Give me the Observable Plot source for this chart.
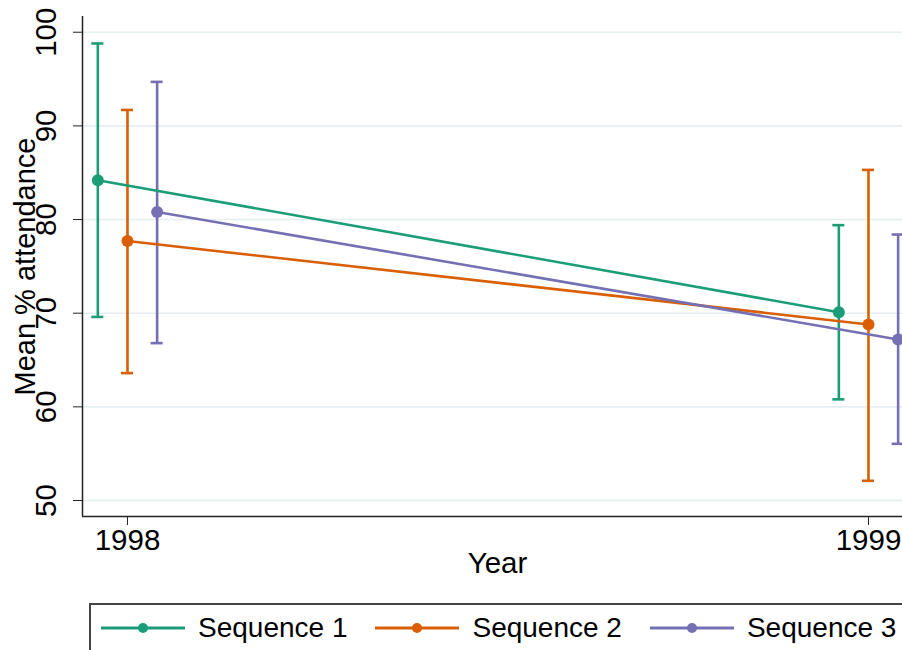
<!DOCTYPE html>
<html><head><meta charset="utf-8">
<script src="https://cdn.jsdelivr.net/npm/d3@7"></script>
<script src="https://cdn.jsdelivr.net/npm/@observablehq/plot@0.6"></script>
<style>
html,body{margin:0;padding:0;overflow:hidden;background:#fff;}
body{font-family:"Liberation Sans",Arial,sans-serif;}
#wrap{position:relative;width:912px;height:650px;}
#chart svg{display:block;}
#legend{position:absolute;left:89px;top:603px;width:840px;height:70px;border:2px solid #444;box-sizing:border-box;display:flex;align-items:flex-start;padding-left:10px;padding-top:7px;font-size:28px;color:#000;white-space:nowrap;}
.item{display:flex;align-items:center;height:32px;flex-shrink:0;}
.item svg{margin-right:13px;flex-shrink:0;}
.item span{margin-right:28px;line-height:32px;white-space:nowrap;}
</style>
</head><body>
<div id="wrap"><div id="chart"></div><div id="legend"></div></div>
<script>
const years = [1998, 1999];
const series = ["Sequence 1", "Sequence 2", "Sequence 3"];
const offsets = [-0.04, 0, 0.04];
const means = [[84.2, 70.1], [77.7, 68.8], [80.8, 67.2]];
const lows  = [[69.6, 60.8], [63.6, 52.1], [66.8, 56.05]];
const highs = [[98.8, 79.4], [91.7, 85.3], [94.7, 78.4]];
const colors = ["#1b9e77", "#d95f02", "#7570b3"];
const yTicks = [50, 60, 70, 80, 90, 100];
const xTicks = [1998, 1999];
const xDomain = [1997.9393, 1999.0594];
const yDomain = [48.29, 101.68];

const rows = series.flatMap((s, i) => years.map((yr, j) => ({
  series: s, x: yr + offsets[i], mean: means[i][j], lo: lows[i][j], hi: highs[i][j]
})));

const font = "'Liberation Sans', Arial, sans-serif";
const chart = Plot.plot({
  width: 912, height: 596,
  marginLeft: 82, marginRight: 0, marginTop: 16, marginBottom: 80,
  style: {fontFamily: font, fontSize: "29.5px", color: "#000", background: "#fff"},
  x: {domain: xDomain},
  y: {domain: yDomain},
  color: {domain: series, range: colors},
  marks: [
    Plot.gridY(yTicks, {stroke: "#e5eef0", strokeOpacity: 1, strokeWidth: 1.6}),
    Plot.ruleX([xDomain[0]], {stroke: "#222", strokeWidth: 1.5}),
    Plot.ruleY([yDomain[0]], {stroke: "#222", strokeWidth: 1.5}),
    Plot.axisY({ticks: yTicks, tickRotate: -90, tickSize: 9, tickPadding: 18, fontSize: 29.5, label: null, stroke: "#222"}),
    Plot.axisX({ticks: xTicks, tickFormat: d => String(d), tickSize: 9, tickPadding: 4, fontSize: 29.5, label: null, stroke: "#222"}),
    Plot.text(["Mean % attendance"], {frameAnchor: "left", dx: -57, rotate: -90, textAnchor: "middle", fontSize: 29, fill: "#000"}),
    Plot.text(["Year"], {frameAnchor: "bottom", dy: 56, textAnchor: "middle", fontSize: 29.5, fill: "#000"}),
    Plot.ruleX(rows, {x: "x", y1: "lo", y2: "hi", stroke: "series", strokeWidth: 2.6}),
    Plot.ruleY(rows, {x1: "x", x2: "x", y: "hi", stroke: "series", strokeWidth: 2.6, insetLeft: -6, insetRight: -6}),
    Plot.ruleY(rows, {x1: "x", x2: "x", y: "lo", stroke: "series", strokeWidth: 2.6, insetLeft: -6, insetRight: -6}),
    Plot.line(rows, {x: "x", y: "mean", z: "series", stroke: "series", strokeWidth: 2.6}),
    Plot.dot(rows, {x: "x", y: "mean", fill: "series", r: 6})
  ]
});
document.getElementById("chart").appendChild(chart);

const legend = document.getElementById("legend");
series.forEach((s, i) => {
  const item = document.createElement("div");
  item.className = "item";
  item.innerHTML = `<svg width="84" height="14"><line x1="0" y1="7" x2="84" y2="7" stroke="${colors[i]}" stroke-width="3"/><circle cx="42" cy="7" r="5" fill="${colors[i]}"/></svg><span>${s}</span>`;
  legend.appendChild(item);
});
</script>
</body></html>
